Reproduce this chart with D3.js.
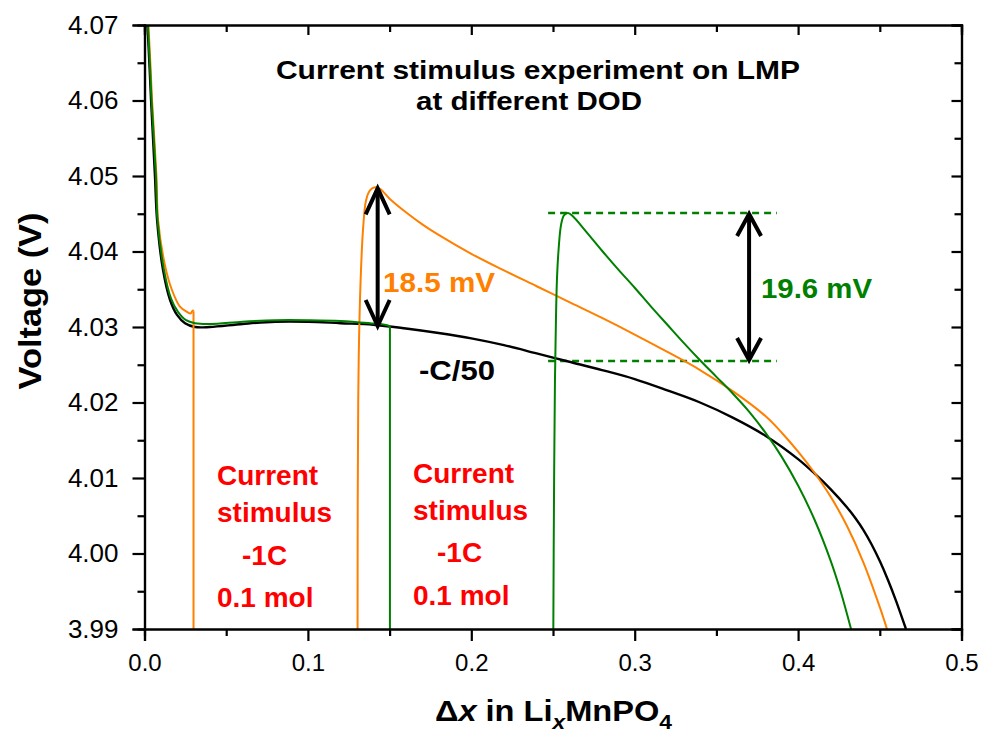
<!DOCTYPE html>
<html>
<head>
<meta charset="utf-8">
<script src="https://cdn.jsdelivr.net/npm/d3@7"></script>
<style>
  html, body { margin: 0; padding: 0; background: #fff; }
  svg { display: block; }
  text { font-family: Arial, "Liberation Sans", sans-serif; }
</style>
</head>
<body>
<svg id="chart" width="984" height="733"></svg>
<script>
// Discharge at -C/50 (x in LixMnPO4, voltage in V)
const blackCurve = [
  [0.0018, 4.0700], [0.0031, 4.0644], [0.0040, 4.0601], [0.0064, 4.0500],
  [0.0077, 4.0442], [0.0113, 4.0376], [0.0156, 4.0336], [0.0199, 4.0316],
  [0.0248, 4.0305], [0.0309, 4.0300], [0.0400, 4.0300], [0.0600, 4.0304],
  [0.0800, 4.0307], [0.1000, 4.0307], [0.1200, 4.0305], [0.1400, 4.0303],
  [0.1600, 4.0298], [0.1800, 4.0292], [0.2000, 4.0285], [0.2200, 4.0276],
  [0.2400, 4.0265], [0.2600, 4.0254], [0.2800, 4.0243], [0.3000, 4.0231],
  [0.3200, 4.0216], [0.3400, 4.0200], [0.3600, 4.0180], [0.3800, 4.0156],
  [0.4000, 4.0125], [0.4100, 4.0106], [0.4200, 4.0085], [0.4300, 4.0061],
  [0.4350, 4.0047], [0.4400, 4.0031], [0.4450, 4.0012], [0.4500, 3.9990],
  [0.4550, 3.9965], [0.4600, 3.9937], [0.4660, 3.9900]
];

// Stimulus applied at x = 0.03, relaxation from x = 0.13
const orangeBefore = [
  [0.0024, 4.0700], [0.0037, 4.0644], [0.0046, 4.0601], [0.0073, 4.0500],
  [0.0083, 4.0442], [0.0125, 4.0382], [0.0168, 4.0349], [0.0217, 4.0327],
  [0.0260, 4.0320], [0.0282, 4.0318], [0.0296, 4.0322], [0.0300, 4.0321],
  [0.0300, 3.9900]
];
const orangeAfter = [
  [0.1304, 3.9900], [0.1305, 4.0071], [0.1308, 4.0203], [0.1313, 4.0283],
  [0.1322, 4.0358], [0.1337, 4.0428], [0.1356, 4.0468], [0.1380, 4.0481],
  [0.1411, 4.0485], [0.1441, 4.0483], [0.1500, 4.0470], [0.1600, 4.0452],
  [0.1700, 4.0436], [0.1800, 4.0422], [0.2000, 4.0397], [0.2200, 4.0375],
  [0.2400, 4.0354], [0.2600, 4.0333], [0.2800, 4.0312], [0.3000, 4.0290],
  [0.3200, 4.0267], [0.3400, 4.0243], [0.3600, 4.0215], [0.3800, 4.0182],
  [0.3900, 4.0160], [0.4000, 4.0135], [0.4100, 4.0107], [0.4200, 4.0075],
  [0.4300, 4.0036], [0.4400, 3.9988], [0.4500, 3.9929], [0.4544, 3.9900]
];

// Stimulus applied at x = 0.15, relaxation from x = 0.25
const greenBefore = [
  [0.0021, 4.0700], [0.0034, 4.0644], [0.0043, 4.0601], [0.0070, 4.0500],
  [0.0080, 4.0442], [0.0119, 4.0376], [0.0162, 4.0338], [0.0205, 4.0320],
  [0.0254, 4.0309], [0.0309, 4.0305], [0.0400, 4.0304], [0.0600, 4.0307],
  [0.0800, 4.0309], [0.1000, 4.0309], [0.1200, 4.0308], [0.1380, 4.0305],
  [0.1470, 4.0303], [0.1502, 4.0301], [0.1502, 3.9900]
];
const greenAfter = [
  [0.2502, 3.9900], [0.2506, 4.0071], [0.2512, 4.0230], [0.2518, 4.0309],
  [0.2524, 4.0362], [0.2534, 4.0402], [0.2549, 4.0435], [0.2567, 4.0448],
  [0.2592, 4.0451], [0.2620, 4.0447], [0.2700, 4.0427], [0.2800, 4.0401],
  [0.2900, 4.0376], [0.3000, 4.0352], [0.3100, 4.0327], [0.3200, 4.0303],
  [0.3300, 4.0279], [0.3400, 4.0256], [0.3500, 4.0234], [0.3600, 4.0212],
  [0.3700, 4.0188], [0.3800, 4.0160], [0.3900, 4.0128], [0.4000, 4.0090],
  [0.4100, 4.0045], [0.4200, 3.9990], [0.4260, 3.9950], [0.4324, 3.9900]
];

// Overpotential markers: [x, lower V, upper V]
const arrowOrange = [0.1427, 4.0300, 4.0485];
const arrowGreen = [0.3700, 4.0255, 4.0451];
const greenGuideX = [0.247, 0.387];

const xTicks = [0.0, 0.1, 0.2, 0.3, 0.4, 0.5];
const xMinor = [0.05, 0.15, 0.25, 0.35, 0.45];
const yTicks = [3.99, 4.00, 4.01, 4.02, 4.03, 4.04, 4.05, 4.06, 4.07];
const yMinor = [3.995, 4.005, 4.015, 4.025, 4.035, 4.045, 4.055, 4.065];

const ORANGE = "#ff8000", GREEN = "#008000", RED = "#ff0000";

const svg = d3.select("#chart");
const L = 144.5, R = 961.5, T = 25, B = 629;

const x = d3.scaleLinear().domain([0, 0.5]).range([L, R]);
const y = d3.scaleLinear().domain([3.99, 4.07]).range([B, T]);

svg.append("defs").append("clipPath").attr("id", "plotClip")
  .append("rect").attr("x", L).attr("y", T).attr("width", R - L).attr("height", B - T);

const plot = svg.append("g").attr("clip-path", "url(#plotClip)");

const smooth = d3.line()
  .x(d => x(d[0])).y(d => y(d[1]))
  .curve(d3.curveCatmullRom.alpha(0.5));
const straight = d3.line().x(d => x(d[0])).y(d => y(d[1]));

// a trace whose last step is the vertical current-step drop
function drawTrace(data, color, width, endsWithDrop) {
  const body = endsWithDrop ? data.slice(0, -1) : data;
  plot.append("path").datum(body).attr("d", smooth)
    .attr("fill", "none").attr("stroke", color).attr("stroke-width", width)
    .attr("stroke-linejoin", "round");
  if (endsWithDrop) {
    plot.append("path").datum(data.slice(-2)).attr("d", straight)
      .attr("fill", "none").attr("stroke", color).attr("stroke-width", width);
  }
}

// green guide lines for the 19.6 mV step
plot.selectAll("line.guide").data([arrowGreen[1], arrowGreen[2]]).enter()
  .append("line").attr("class", "guide")
  .attr("x1", x(greenGuideX[0])).attr("x2", x(greenGuideX[1]))
  .attr("y1", d => y(d)).attr("y2", d => y(d))
  .attr("stroke", GREEN).attr("stroke-width", 2.6)
  .attr("stroke-dasharray", "7,5");

drawTrace(blackCurve, "#000", 2.4, false);
drawTrace(orangeBefore, ORANGE, 2, true);
drawTrace(orangeAfter, ORANGE, 2, false);
drawTrace(greenBefore, GREEN, 2, true);
drawTrace(greenAfter, GREEN, 2, false);

// double-headed arrows
function doubleArrow(a, hw, hh) {
  const ax = x(a[0]), y0 = y(a[1]), y1 = y(a[2]);
  const g = svg.append("g").attr("stroke", "#000").attr("stroke-width", 4)
    .attr("fill", "none").attr("stroke-linecap", "butt").attr("stroke-linejoin", "miter");
  g.append("line").attr("x1", ax).attr("x2", ax).attr("y1", y1 + 1).attr("y2", y0 - 1);
  g.append("path").attr("d", `M${ax - hw},${y1 + hh}L${ax},${y1 + 1}L${ax + hw},${y1 + hh}`);
  g.append("path").attr("d", `M${ax - hw},${y0 - hh}L${ax},${y0 - 1}L${ax + hw},${y0 - hh}`);
}
doubleArrow(arrowOrange, 12, 27);
doubleArrow(arrowGreen, 12, 23);

// axes
const axisG = svg.append("g");
function styleAxis(g, size) {
  g.select(".domain").attr("stroke", "#000").attr("stroke-width", 2.2);
  g.selectAll(".tick line").attr("stroke", "#000").attr("stroke-width", 2.2);
  g.selectAll(".tick text").attr("fill", "#000")
    .style("font-family", "Arial, 'Liberation Sans', sans-serif").style("font-size", (size || 24) + "px");
}
axisG.append("g").attr("transform", `translate(0,${B})`)
  .call(d3.axisBottom(x).tickValues(xTicks).tickSize(12).tickPadding(13).tickFormat(d3.format(".1f")))
  .call(g => styleAxis(g, 24));
axisG.append("g").attr("transform", `translate(0,${B})`)
  .call(d3.axisBottom(x).tickValues(xMinor).tickSize(7).tickFormat(""))
  .call(styleAxis);
axisG.append("g").attr("transform", `translate(${L},0)`)
  .call(d3.axisLeft(y).tickValues(yTicks).tickSize(12).tickPadding(14).tickFormat(d3.format(".2f")))
  .call(g => styleAxis(g, 26));
axisG.append("g").attr("transform", `translate(${L},0)`)
  .call(d3.axisLeft(y).tickValues(yMinor).tickSize(7).tickFormat(""))
  .call(styleAxis);
axisG.append("g").attr("transform", `translate(0,${T})`)
  .call(d3.axisTop(x).tickValues(xTicks).tickSize(-10).tickFormat(""))
  .call(styleAxis);
axisG.append("g").attr("transform", `translate(0,${T})`)
  .call(d3.axisTop(x).tickValues(xMinor).tickSize(-7).tickFormat(""))
  .call(styleAxis);
axisG.append("g").attr("transform", `translate(${R},0)`)
  .call(d3.axisRight(y).tickValues(yTicks).tickSize(-10).tickFormat(""))
  .call(styleAxis);
axisG.append("g").attr("transform", `translate(${R},0)`)
  .call(d3.axisRight(y).tickValues(yMinor).tickSize(-7).tickFormat(""))
  .call(styleAxis);

// axis titles
svg.append("text")
  .attr("transform", "translate(41,301) rotate(-90)")
  .attr("text-anchor", "middle")
  .style("font-size", "32px").style("font-weight", "bold")
  .attr("textLength", 177).attr("lengthAdjust", "spacingAndGlyphs")
  .text("Voltage (V)");

const xl = svg.append("text")
  .attr("x", 435).attr("y", 721)
  .attr("textLength", 237).attr("lengthAdjust", "spacingAndGlyphs")
  .style("font-size", "30px").style("font-weight", "bold");
xl.append("tspan").text("\u0394");
xl.append("tspan").style("font-style", "italic").text("x");
xl.append("tspan").text(" in Li");
xl.append("tspan").attr("dy", 8).style("font-style", "italic").style("font-size", "21px").text("x");
xl.append("tspan").attr("dy", -8).text("MnPO");
xl.append("tspan").attr("dy", 8).style("font-size", "21px").text("4");

// chart title
const title = svg.append("g")
  .style("font-family", "Lato, 'Open Sans', sans-serif").style("font-weight", "bold")
  .style("font-size", "25px").attr("fill", "#000");
title.append("text").attr("x", 276).attr("y", 79)
  .attr("textLength", 524).attr("lengthAdjust", "spacingAndGlyphs")
  .text("Current stimulus experiment on LMP");
title.append("text").attr("x", 416).attr("y", 110)
  .attr("textLength", 226).attr("lengthAdjust", "spacingAndGlyphs")
  .text("at different DOD");

// annotations
svg.append("text").attr("x", 419).attr("y", 380)
  .style("font-size", "27px").style("font-weight", "bold").attr("fill", "#000")
  .attr("textLength", 76).attr("lengthAdjust", "spacingAndGlyphs")
  .text("-C/50");
svg.append("text").attr("x", 383).attr("y", 292)
  .style("font-size", "28px").style("font-weight", "bold").attr("fill", ORANGE)
  .attr("textLength", 112).attr("lengthAdjust", "spacingAndGlyphs")
  .text("18.5 mV");
svg.append("text").attr("x", 761).attr("y", 298)
  .style("font-size", "28px").style("font-weight", "bold").attr("fill", GREEN)
  .attr("textLength", 111).attr("lengthAdjust", "spacingAndGlyphs")
  .text("19.6 mV");

// stimulus notes
const noteLines = ["Current", "stimulus", "-1C", "0.1 mol"];
const noteLeft = { x: [217, 217, 242, 217], y: [485, 522, 565, 607] };
const noteRight = { x: [413, 413, 437, 413], y: [483, 520, 562, 605] };
[noteLeft, noteRight].forEach(n => {
  noteLines.forEach((t, i) => {
    svg.append("text").attr("x", n.x[i]).attr("y", n.y[i])
      .style("font-size", "28px").style("font-weight", "bold").attr("fill", RED)
      .text(t);
  });
});
</script>
</body>
</html>
